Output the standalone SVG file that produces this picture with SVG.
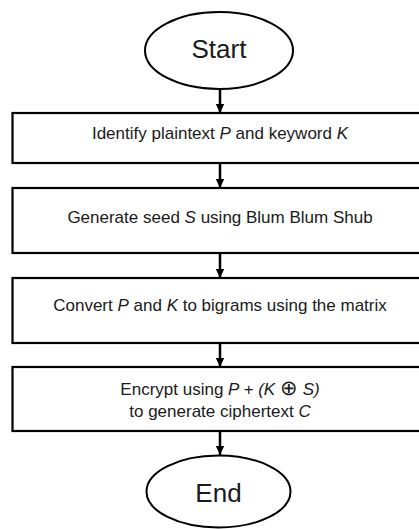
<svg xmlns="http://www.w3.org/2000/svg" width="419" height="529" viewBox="0 0 419 529">
<defs>
<marker id="ah" markerWidth="10" markerHeight="10" refX="9" refY="5" orient="auto" markerUnits="userSpaceOnUse">
<path d="M0,0.8 L9,5 L0,9.2 Z" fill="#000"/>
</marker>
<style>
.box{fill:#fff;stroke:#000;stroke-width:2.2}
.term{fill:#fff;stroke:#000;stroke-width:2}
.t{font-family:"Liberation Sans",Arial,sans-serif;font-size:17px;fill:#1a1a1a;text-anchor:middle}
.big{font-family:"Liberation Sans",Arial,sans-serif;font-size:26px;fill:#1a1a1a;text-anchor:middle}
.i{font-style:italic}
.op{font-size:21px}
.c{stroke:#000;stroke-width:2.5;fill:none;marker-end:url(#ah)}
</style>
</defs>
<rect width="419" height="529" fill="#fff"/>
<g id="connectors">
<line class="c" x1="220" y1="89" x2="220" y2="113"/>
<line class="c" x1="220" y1="163" x2="220" y2="188"/>
<line class="c" x1="220" y1="253" x2="220" y2="278"/>
<line class="c" x1="220" y1="343" x2="220" y2="367"/>
<line class="c" x1="220" y1="431" x2="220" y2="455"/>
</g>
<g id="start">
<ellipse class="term" cx="219" cy="50.5" rx="74" ry="38.5"/>
<text class="big" x="219" y="58">Start</text>
</g>
<g id="identify">
<rect class="box" x="12.5" y="113" width="416" height="50"/>
<text class="t" x="220" y="139">Identify plaintext <tspan class="i">P</tspan> and keyword <tspan class="i">K</tspan></text>
</g>
<g id="seed">
<rect class="box" x="12.5" y="188" width="416" height="65"/>
<text class="t" x="220" y="223">Generate seed <tspan class="i">S</tspan> using Blum Blum Shub</text>
</g>
<g id="convert">
<rect class="box" x="12.5" y="278" width="416" height="65"/>
<text class="t" x="220" y="311">Convert <tspan class="i">P</tspan> and <tspan class="i">K</tspan> to bigrams using the matrix</text>
</g>
<g id="encrypt">
<rect class="box" x="12.5" y="367" width="416" height="64"/>
<text class="t" x="220" y="395">Encrypt using <tspan class="i">P + (K</tspan> <tspan class="op">⊕</tspan> <tspan class="i">S)</tspan></text>
<text class="t" x="220" y="417">to generate ciphertext <tspan class="i">C</tspan></text>
</g>
<g id="end">
<ellipse class="term" cx="218.5" cy="491.5" rx="72" ry="36"/>
<text class="big" x="218.5" y="502">End</text>
</g>
</svg>
